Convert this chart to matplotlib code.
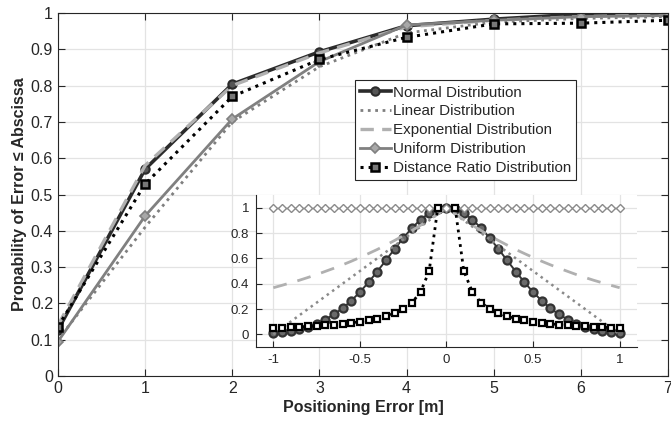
import numpy as np
import matplotlib
matplotlib.use("Agg")
import matplotlib.pyplot as plt

plt.rcParams['font.family'] = ['Liberation Sans', 'DejaVu Sans']
plt.rcParams['axes.unicode_minus'] = False

# main CDF curves
err_m = [0, 1, 2, 3, 4, 5, 6, 7]
cdf_normal = [0.127, 0.570, 0.804, 0.893, 0.965, 0.983, 0.997, 1.0]
cdf_linear = [0.100, 0.410, 0.700, 0.852, 0.945, 0.975, 0.985, 0.990]
cdf_expo = [0.140, 0.580, 0.800, 0.890, 0.962, 0.980, 0.990, 0.995]
cdf_uniform = [0.095, 0.441, 0.708, 0.866, 0.967, 0.980, 0.990, 0.993]
cdf_ratio = [0.136, 0.529, 0.770, 0.872, 0.933, 0.970, 0.972, 0.980]

# inset: weight functions
w_x = np.linspace(-1, 1, 41)
w_normal = [0.012, 0.019, 0.029, 0.042, 0.060, 0.085, 0.117, 0.157, 0.206, 0.265, 0.334,
            0.411, 0.496, 0.584, 0.674, 0.760, 0.839, 0.906, 0.957, 0.990, 1.0,
            0.990, 0.957, 0.906, 0.839, 0.760, 0.674, 0.584, 0.496, 0.411, 0.334,
            0.265, 0.206, 0.157, 0.117, 0.085, 0.060, 0.042, 0.029, 0.019, 0.012]
w_linear = [0.0, 0.05, 0.10, 0.15, 0.20, 0.25, 0.30, 0.35, 0.40, 0.45, 0.50,
            0.55, 0.60, 0.65, 0.70, 0.75, 0.80, 0.85, 0.90, 0.95, 1.0,
            0.95, 0.90, 0.85, 0.80, 0.75, 0.70, 0.65, 0.60, 0.55, 0.50,
            0.45, 0.40, 0.35, 0.30, 0.25, 0.20, 0.15, 0.10, 0.05, 0.0]
w_expo = [0.368, 0.387, 0.407, 0.427, 0.449, 0.472, 0.497, 0.522, 0.549, 0.577, 0.607,
          0.638, 0.670, 0.705, 0.741, 0.779, 0.819, 0.861, 0.905, 0.951, 1.0,
          0.951, 0.905, 0.861, 0.819, 0.779, 0.741, 0.705, 0.670, 0.638, 0.607,
          0.577, 0.549, 0.522, 0.497, 0.472, 0.449, 0.427, 0.407, 0.387, 0.368]
w_uniform = [1.0] * 41
w_ratio = [0.050, 0.053, 0.056, 0.059, 0.0625, 0.067, 0.071, 0.077, 0.083, 0.091, 0.100,
           0.111, 0.125, 0.143, 0.167, 0.200, 0.250, 0.333, 0.500, 1.0, np.nan,
           1.0, 0.500, 0.333, 0.250, 0.200, 0.167, 0.143, 0.125, 0.111, 0.100,
           0.091, 0.083, 0.077, 0.071, 0.067, 0.0625, 0.059, 0.056, 0.053, 0.050]

txt = '#262626'
grid_c = '#e3e3e3'

fig = plt.figure(figsize=(6.71, 4.25), dpi=100)
ax = fig.add_axes([0.0864, 0.1153, 0.9091, 0.8541])

ax.plot(err_m, cdf_normal, '-', color='#2b2b2b', lw=2.6, marker='o', ms=6,
        mfc='#555555', mec='#2b2b2b', mew=1.5, label='Normal Distribution')
ax.plot(err_m, cdf_linear, ':', color='#7f7f7f', lw=2.0, label='Linear Distribution')
ax.plot(err_m, cdf_expo, '--', color='#b0b0b0', lw=2.4, dashes=(4, 2.5),
        label='Exponential Distribution')
ax.plot(err_m, cdf_uniform, '-', color='#808080', lw=2.0, marker='D', ms=5,
        mfc='#a8a8a8', mec='#808080', mew=1.2, label='Uniform Distribution')
ax.plot(err_m, cdf_ratio, ':', color='black', lw=2.2, marker='s', ms=5.2,
        mfc='#777777', mec='black', mew=1.8, label='Distance Ratio Distribution')

ax.set_xlim(0, 7)
ax.set_ylim(0, 1)
ax.set_xticks(err_m)
ax.set_yticks(np.arange(0, 1.01, 0.1))
ax.set_yticklabels(['0', '0.1', '0.2', '0.3', '0.4', '0.5', '0.6', '0.7', '0.8', '0.9', '1'])
ax.grid(True, color=grid_c, lw=0.9)
ax.set_axisbelow(True)
ax.tick_params(direction='in', top=True, right=True, length=5, colors=txt,
               labelsize=11.5, width=0.8)
for s in ax.spines.values():
    s.set_color(txt)
    s.set_linewidth(0.8)
ax.set_xlabel('Positioning Error [m]', fontsize=11.5, fontweight='bold', color=txt, labelpad=3)
ax.set_ylabel('Propability of Error \u2264 Abscissa', fontsize=11.5, fontweight='bold',
              color=txt, labelpad=3)

leg = ax.legend(loc='upper left', bbox_to_anchor=(0.529, 0.811), bbox_transform=fig.transFigure,
                fancybox=False, edgecolor=txt, framealpha=1, fontsize=10.9,
                handlelength=2.0, handletextpad=0.15, labelspacing=0.32,
                borderpad=0.35, borderaxespad=0)
leg.get_frame().set_linewidth(0.8)
for t in leg.get_texts():
    t.set_color(txt)

# inset
ins = fig.add_axes([0.3815, 0.1835, 0.5678, 0.3576])
ins.plot(w_x, w_normal, '-', color='#333333', lw=1.4, marker='o', ms=5.8,
         mfc='#6a6a6a', mec='#333333', mew=1.6)
ins.plot(w_x, w_linear, ':', color='#8a8a8a', lw=1.8)
ins.plot(w_x, w_expo, '--', color='#b0b0b0', lw=2.0, dashes=(5, 4))
ins.plot(w_x, w_uniform, '-', color='#8a8a8a', lw=1.0, marker='D', ms=3.8,
         mfc='white', mec='#8a8a8a', mew=1.0)
ins.plot(w_x, w_ratio, ':', color='black', lw=2.0, marker='s', ms=4.4,
         mfc='white', mec='black', mew=1.6)

ins.set_xlim(-1.1, 1.1)
ins.set_ylim(-0.1, 1.1)
ins.set_xticks([-1, -0.5, 0, 0.5, 1])
ins.set_xticklabels(['-1', '-0.5', '0', '0.5', '1'])
ins.set_yticks([0, 0.2, 0.4, 0.6, 0.8, 1])
ins.set_yticklabels(['0', '0.2', '0.4', '0.6', '0.8', '1'])
ins.grid(True, color=grid_c, lw=0.9)
ins.set_axisbelow(True)
ins.tick_params(direction='in', length=4, colors=txt, labelsize=9.5, width=0.8, pad=5)
ins.spines['top'].set_visible(False)
ins.spines['right'].set_visible(False)
for s in ('left', 'bottom'):
    ins.spines[s].set_color(txt)
    ins.spines[s].set_linewidth(0.8)

fig.savefig('out.png', dpi=100)
